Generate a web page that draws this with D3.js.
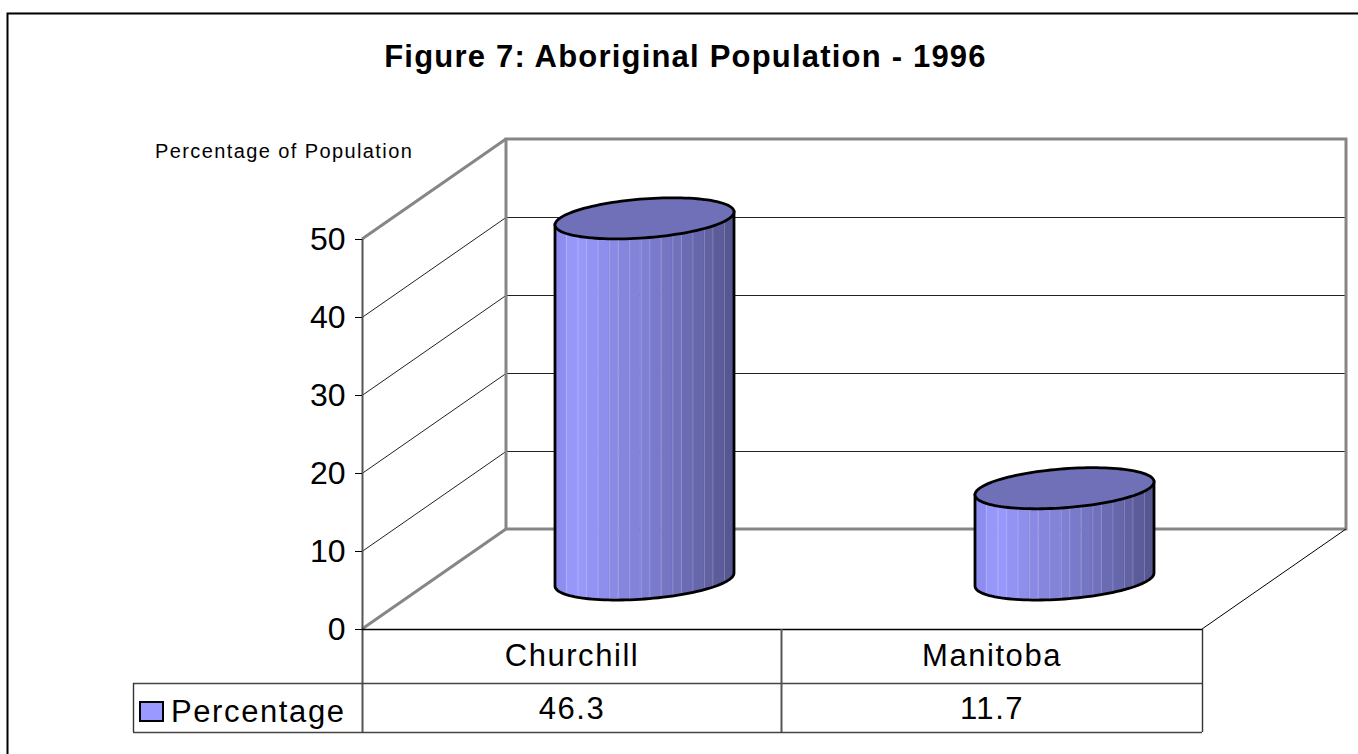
<!DOCTYPE html>
<html><head><meta charset="utf-8">
<script src="https://cdn.jsdelivr.net/npm/d3@7"></script>
<style>html,body{margin:0;padding:0;background:#fff}svg{display:block}text{font-family:"Liberation Sans",Arial,sans-serif;fill:#000}</style>
</head><body><svg id="c" width="1358" height="754"></svg>
<script>
const categories=["Churchill","Manitoba"];
const percentage=[46.3,11.7];
const yTicks=[0,10,20,30,40,50];
const seriesName="Percentage";
const titleText="Figure 7: Aboriginal Population - 1996";
const yTitle="Percentage of Population";
const bandColors=["#8d8df0","#9797fa","#9898fb","#9393f4","#8e8eec","#8a8ae5","#8686df","#8383da","#7f7fd4","#7a7acc","#7575c4","#7070bc","#6b6bb4","#6666ac","#6161a3","#5c5c9b","#565692"];

const W=1358,H=754;
const x0=362,x1=1202,yBase=629,yTop=239,dx=144,dy=-100;
const svg=d3.select("#c");
const y=d3.scaleLinear().domain([0,50]).range([yBase,yTop]);
const x=d3.scaleBand().domain(categories).range([x0,x1]);
const line=(pts,stroke,w)=>svg.append("path").attr("d",d3.line()(pts)).attr("fill","none").attr("stroke",stroke).attr("stroke-width",w);

// outer frame
line([[7.5,H],[7.5,13.5],[W,13.5]],"#000",2);
line([[7,12.5],[W,12.5]],"#777",1);

// title
svg.append("text").attr("x",685.5).attr("y",66.5).attr("text-anchor","middle").attr("font-size",31).attr("font-weight","bold").attr("letter-spacing",1.2).text(titleText);
svg.append("text").attr("x",155).attr("y",158).attr("font-size",20).attr("letter-spacing",1.4).text(yTitle);

// gridlines on walls
yTicks.slice(1,-1).forEach(t=>{
  line([[x0,y(t)+.5],[x0+dx,y(t)+dy+.5],[x1+dx,y(t)+dy+.5]],"#222",1);
});
// back wall and side edges
line([[x0,y(50)],[x0+dx,y(50)+dy]],"#868686",3);
line([[x0,y(0)],[x0+dx,y(0)+dy]],"#868686",3);
svg.append("rect").attr("x",x0+dx).attr("y",y(50)+dy).attr("width",x1-x0).attr("height",y(0)-y(50)).attr("fill","none").attr("stroke","#868686").attr("stroke-width",3);
// floor right edge
line([[x1,y(0)],[x1+dx,y(0)+dy]],"#000",1);

// left axis
line([[x0+.5,y(50)],[x0+.5,732]],"#555",2);
yTicks.forEach(t=>{
  line([[x0-7,y(t)+.5],[x0,y(t)+.5]],"#000",1);
  svg.append("text").attr("x",x0-16.5).attr("y",y(t)+10.5).attr("text-anchor","end").attr("font-size",32).text(t);
});

// cylinders
const defs=svg.append("defs");
const a=89.5,b=19.5,s=6.5;
const ell=(cx,cy,t)=>[cx+a*Math.cos(t),cy-s*Math.cos(t)+b*Math.sin(t)];
categories.forEach((c,i)=>{
  const cx=x(c)+x.bandwidth()/2+72.5;
  const yb=y(0)-49.5, yt=yb-(y(0)-y(percentage[i]));
  const ts=d3.range(0,Math.PI+.001,Math.PI/60);
  const bottom=ts.map(t=>ell(cx,yb,t));
  const bodyD=d3.line()([ell(cx,yt,0),...bottom,ell(cx,yt,Math.PI)])+"Z";
  const id="clip"+i;
  defs.append("clipPath").attr("id",id).append("path").attr("d",bodyD);
  const g=svg.append("g").attr("clip-path",`url(#${id})`);
  const sx=d3.scaleBand().domain(d3.range(bandColors.length)).range([cx-a,cx+a]);
  g.selectAll("rect.b").data(bandColors).join("rect").attr("x",(d,k)=>sx(k)).attr("width",sx.bandwidth()+.5).attr("y",yt-30).attr("height",yb-yt+60).attr("fill",d=>d);
  g.selectAll("line").data(d3.range(1,17)).join("line").attr("x1",k=>sx(k)+(k%3)).attr("x2",k=>sx(k)+(k%3)).attr("y1",yt-30).attr("y2",yb+30).attr("stroke","#fff").attr("stroke-opacity",.22).attr("stroke-width",1);
  svg.append("path").attr("d",bodyD).attr("fill","none").attr("stroke","#000").attr("stroke-width",2.8);
  const topD=d3.line()(d3.range(0,Math.PI*2,Math.PI/60).map(t=>ell(cx,yt,t)))+"Z";
  svg.append("path").attr("d",topD).attr("fill","#7070b8").attr("stroke","#000").attr("stroke-width",2.8);
});

// data table
const rowMid=683,rowBot=732,tblLeft=133;
line([[x0,y(0)+.5],[x1,y(0)+.5]],"#000",1.5);
line([[tblLeft,rowMid+.5],[x1,rowMid+.5]],"#444",1.4);
line([[tblLeft,rowBot+.5],[x1,rowBot+.5]],"#444",1.4);
line([[tblLeft+.5,rowMid],[tblLeft+.5,rowBot]],"#333",1.4);
line([[x1+.5,y(0)],[x1+.5,rowBot]],"#333",1.4);
line([[x(categories[1])-.5,y(0)],[x(categories[1])-.5,rowBot]],"#555",2);
categories.forEach((c,i)=>{
  const m=x(c)+x.bandwidth()/2;
  svg.append("text").attr("x",m).attr("y",666).attr("text-anchor","middle").attr("font-size",31).attr("letter-spacing",1.55).text(c);
  svg.append("text").attr("x",m).attr("y",718.5).attr("text-anchor","middle").attr("font-size",31).attr("letter-spacing",1.55).text(percentage[i]);
});
svg.append("rect").attr("x",140).attr("y",702).attr("width",23).attr("height",19).attr("fill","#9999ff").attr("stroke","#000").attr("stroke-width",2);
svg.append("text").attr("x",171).attr("y",722).attr("font-size",31).attr("letter-spacing",1.6).text(seriesName);
</script></body></html>
